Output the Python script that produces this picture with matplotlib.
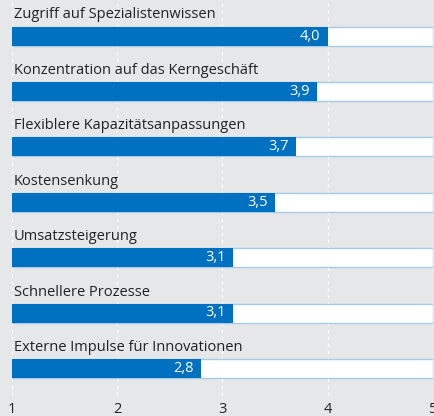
import matplotlib
matplotlib.use("Agg")
import matplotlib.pyplot as plt

categories = ["Zugriff auf Spezialistenwissen",
              "Konzentration auf das Kerngeschäft",
              "Flexiblere Kapazitätsanpassungen",
              "Kostensenkung",
              "Umsatzsteigerung",
              "Schnellere Prozesse",
              "Externe Impulse für Innovationen"]
values = [4.0, 3.9, 3.7, 3.5, 3.1, 3.1, 2.8]
ticks = [1, 2, 3, 4, 5]

bg = "#e6e7e9"
blue = "#0070c0"
plt.rcParams['font.family'] = ['Open Sans', 'DejaVu Sans']

fig = plt.figure(figsize=(4.35, 4.16), dpi=100)
fig.patch.set_facecolor(bg)
ax = fig.add_axes([12/435, 21/416, 421/435, 395/416])
ax.set_facecolor(bg)

step = 55.4
ax.set_xlim(1, 5)
ax.set_ylim((395 - 36) / step, -36 / step)

for t in ticks:
    ax.axvline(t, color="white", lw=1, ls=(0, (2, 3)), zorder=0)

h = 19 / step
for i, (c, v) in enumerate(zip(categories, values)):
    ax.barh(i, 4, left=1, height=h, color="white", edgecolor="#a6cbe6", lw=1, zorder=2)
    ax.barh(i, v - 1, left=1, height=h, color=blue, zorder=3)
    ax.text(v - 0.07, i, f"{v:.1f}".replace(".", ","), color="white", ha="right",
            va="center", fontsize=10.5, zorder=4)
    ax.text(1.02, i - 21 / step, c, color="#222222", ha="left", va="center",
            fontsize=10.5, zorder=4)

ax.set_xticks(ticks)
ax.set_xticklabels([str(t) for t in ticks], fontsize=10.5, color="#222222")
ax.set_yticks([])
ax.tick_params(axis="x", length=0, pad=5)
for s in ax.spines.values():
    s.set_visible(False)

fig.savefig("out.png", dpi=100, facecolor=bg)
